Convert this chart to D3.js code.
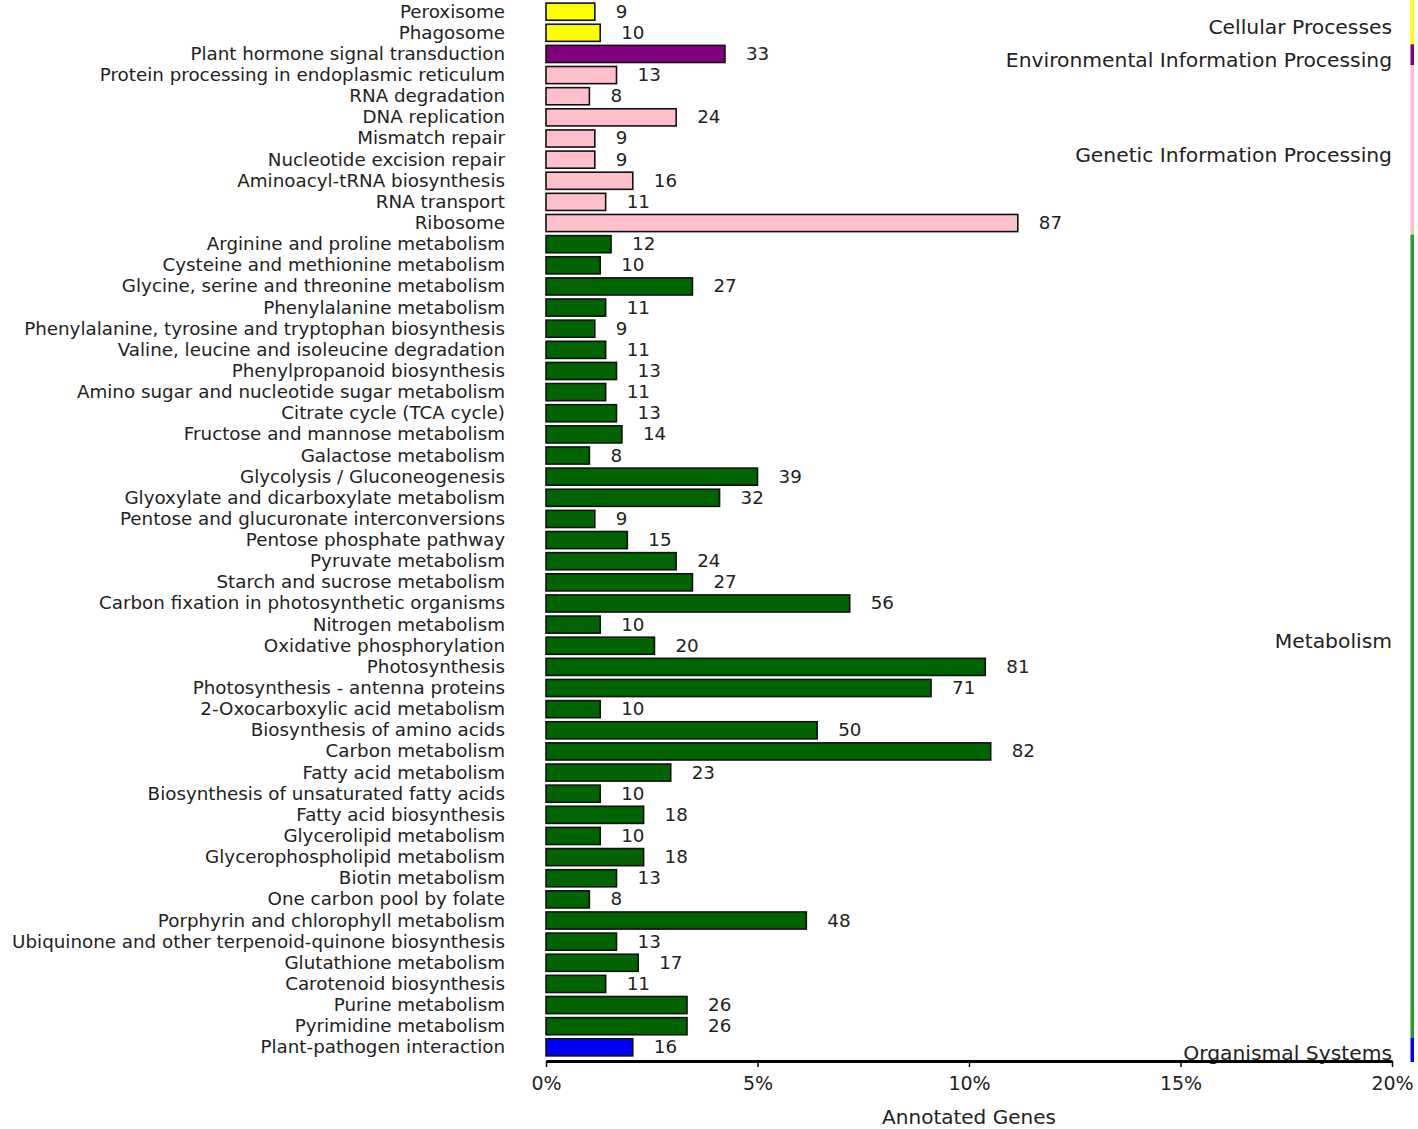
<!DOCTYPE html>
<html><head><meta charset="utf-8">
<script src="https://cdn.jsdelivr.net/npm/d3@7"></script>
<style>body{margin:0;background:#fff}svg{display:block}</style>
</head><body>
<svg id="c" width="1418" height="1129"></svg>
<script>
const categories = ["Peroxisome","Phagosome","Plant hormone signal transduction","Protein processing in endoplasmic reticulum","RNA degradation","DNA replication","Mismatch repair","Nucleotide excision repair","Aminoacyl-tRNA biosynthesis","RNA transport","Ribosome","Arginine and proline metabolism","Cysteine and methionine metabolism","Glycine, serine and threonine metabolism","Phenylalanine metabolism","Phenylalanine, tyrosine and tryptophan biosynthesis","Valine, leucine and isoleucine degradation","Phenylpropanoid biosynthesis","Amino sugar and nucleotide sugar metabolism","Citrate cycle (TCA cycle)","Fructose and mannose metabolism","Galactose metabolism","Glycolysis / Gluconeogenesis","Glyoxylate and dicarboxylate metabolism","Pentose and glucuronate interconversions","Pentose phosphate pathway","Pyruvate metabolism","Starch and sucrose metabolism","Carbon fixation in photosynthetic organisms","Nitrogen metabolism","Oxidative phosphorylation","Photosynthesis","Photosynthesis - antenna proteins","2-Oxocarboxylic acid metabolism","Biosynthesis of amino acids","Carbon metabolism","Fatty acid metabolism","Biosynthesis of unsaturated fatty acids","Fatty acid biosynthesis","Glycerolipid metabolism","Glycerophospholipid metabolism","Biotin metabolism","One carbon pool by folate","Porphyrin and chlorophyll metabolism","Ubiquinone and other terpenoid-quinone biosynthesis","Glutathione metabolism","Carotenoid biosynthesis","Purine metabolism","Pyrimidine metabolism","Plant-pathogen interaction"];
const geneCounts = [9,10,33,13,8,24,9,9,16,11,87,12,10,27,11,9,11,13,11,13,14,8,39,32,9,15,24,27,56,10,20,81,71,10,50,82,23,10,18,10,18,13,8,48,13,17,11,26,26,16];
const groupNames = ["Cellular Processes","Environmental Information Processing","Genetic Information Processing","Metabolism","Organismal Systems"];
const groupSizes = [2,1,8,38,1];
const groupColors = ["#ffff00","#800080","#ffc0cb","#006400","#0000ff"];
const sideColors = ["#ffff00","#800080","#ffc0cb","#2a9a2a","#0000ff"];
const totalGenes = 780;
const xTicks = [0,0.05,0.10,0.15,0.20];
const xTickLabels = ["0%","5%","10%","15%","20%"];
const xTitle = "Annotated Genes";

const groupOf = [];
groupSizes.forEach((n,g)=>{for(let i=0;i<n;i++)groupOf.push(g);});

const svg = d3.select("#c");
const FONT = "'DejaVu Sans',sans-serif";
const x = d3.scaleLinear().domain([0,0.20]).range([546,1392]);
const y = d3.scaleBand().domain(categories).range([1,1058]).paddingInner(0.19).paddingOuter(0.1);

// bars
svg.append("g").selectAll("rect").data(categories).join("rect")
  .attr("x", x(0))
  .attr("y", d=>y(d))
  .attr("width", (d,i)=>x(geneCounts[i]/totalGenes)-x(0))
  .attr("height", y.bandwidth())
  .attr("fill", (d,i)=>groupColors[groupOf[i]])
  .attr("stroke","#111").attr("stroke-width",1.6);

// category labels
svg.append("g").selectAll("text").data(categories).join("text")
  .attr("x",505).attr("y",d=>y(d)+y.bandwidth()/2+6)
  .attr("text-anchor","end")
  .attr("font-family",FONT).attr("font-size",18.3).attr("fill","#222")
  .text(d=>d);

// value labels
svg.append("g").selectAll("text").data(categories).join("text")
  .attr("x",(d,i)=>x(geneCounts[i]/totalGenes)+21)
  .attr("y",d=>y(d)+y.bandwidth()/2+6)
  .attr("font-family",FONT).attr("font-size",18.3).attr("fill","#222")
  .text((d,i)=>geneCounts[i]);

// side group bars & labels
let start = 0;
groupSizes.forEach((n,g)=>{
  const y0 = start===0 ? 0 : y.step()*start + 2, y1 = y.step()*(start+n) + 2;
  svg.append("rect").attr("x",1410.5).attr("y",y0).attr("width",3.5).attr("height",(g===4?1062:y1)-y0).attr("fill",sideColors[g]);
  svg.append("text").attr("x",1392).attr("y",(y0+y1)/2+12)
    .attr("text-anchor","end").attr("font-family",FONT).attr("font-size",20.3).attr("fill","#222")
    .text(groupNames[g]);
  start += n;
});

// x axis
const ax = svg.append("g").attr("transform","translate(0,1061)")
  .call(d3.axisBottom(x).tickValues(xTicks).tickFormat((d,i)=>xTickLabels[i]).tickSize(6).tickSizeOuter(0));
ax.select(".domain").attr("stroke","#000").attr("stroke-width",3);
ax.selectAll(".tick line").attr("stroke","#000").attr("stroke-width",1.5);
ax.selectAll(".tick text").attr("font-family",FONT).attr("font-size",19).attr("fill","#222").attr("dy","1.05em");

svg.append("text").attr("x",969).attr("y",1124).attr("text-anchor","middle")
  .attr("font-family",FONT).attr("font-size",20).attr("fill","#222").text(xTitle);
</script>
</body></html>
